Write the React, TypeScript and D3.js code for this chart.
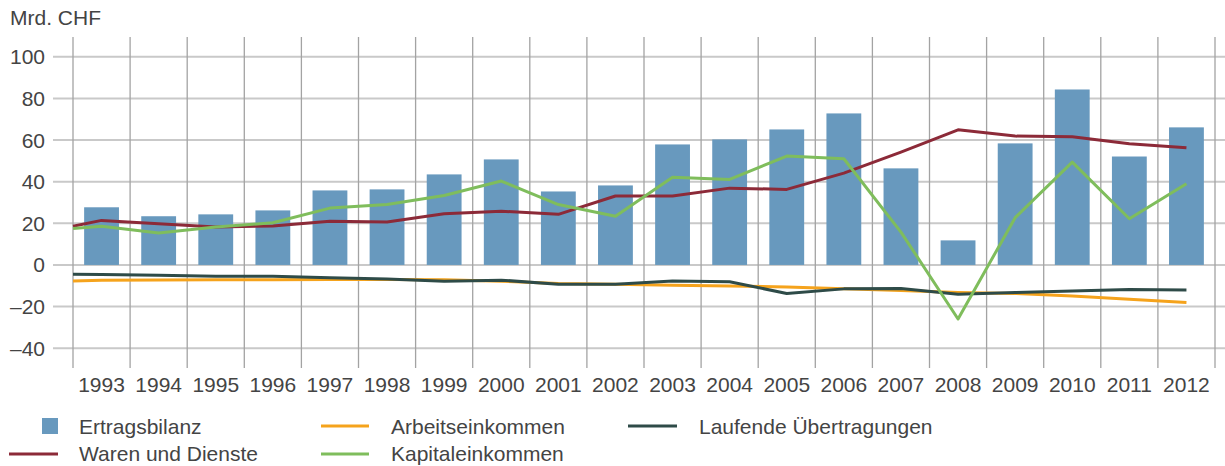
import React from 'react';
import * as d3 from 'd3';

// Jahre (Kategorien)
const years = [
  '1993', '1994', '1995', '1996', '1997', '1998', '1999', '2000', '2001', '2002',
  '2003', '2004', '2005', '2006', '2007', '2008', '2009', '2010', '2011', '2012'
];

// Ertragsbilanz (Balken), Mrd. CHF
const ertragsbilanz = [
  27.7, 23.4, 24.3, 26.2, 35.8, 36.3, 43.5, 50.7, 35.3, 38.2,
  57.9, 60.3, 65.1, 72.8, 46.4, 11.8, 58.4, 84.3, 52.1, 66.1
];

// Linien: erster Wert liegt am linken Achsenrand, danach ein Wert pro Jahr
const warenUndDienste = [
  18.6, 21.4, 19.8, 18.2, 18.7, 21.0, 20.6, 24.6, 25.8, 24.3, 33.1,
  33.1, 36.9, 36.3, 44.1, 54.2, 64.9, 61.9, 61.6, 58.2, 56.3
];
const arbeitseinkommen = [
  -7.7, -7.4, -7.2, -7.1, -7.1, -7.0, -7.0, -7.1, -7.8, -8.9, -9.3,
  -9.7, -10.1, -10.6, -11.5, -12.3, -13.2, -13.7, -14.9, -16.5, -18.0
];
const kapitaleinkommen = [
  17.5, 18.6, 15.3, 18.2, 20.3, 27.3, 29.0, 33.4, 40.3, 29.0, 23.4,
  42.1, 41.1, 52.3, 51.0, 15.8, -26.0, 22.7, 49.4, 22.2, 39.0
];
const laufendeUebertragungen = [
  -4.5, -4.6, -4.9, -5.4, -5.4, -6.1, -6.7, -7.8, -7.3, -9.3, -9.3,
  -7.7, -8.1, -13.7, -11.5, -11.3, -14.1, -13.3, -12.5, -11.8, -12.0
];

const yTicks = [100, 80, 60, 40, 20, 0, -20, -40];

const lineSeries = [
  { name: 'Arbeitseinkommen', values: arbeitseinkommen, color: '#f5a31c' },
  { name: 'Laufende Übertragungen', values: laufendeUebertragungen, color: '#2e4b48' },
  { name: 'Waren und Dienste', values: warenUndDienste, color: '#8c2a38' },
  { name: 'Kapitaleinkommen', values: kapitaleinkommen, color: '#7fbd5c' }
];

const BAR_COLOR = '#6899be';
const TEXT_COLOR = '#444444';
const FONT = '"Liberation Sans", Arial, sans-serif';
const FS = 21;

const width = 1225;
const height = 466;
const plot = { left: 73, right: 1215, top: 37, bottom: 368 };

const App: React.FC = () => {
  const x = d3.scaleBand<string>()
    .domain(years)
    .range([plot.left, plot.right])
    .paddingInner(0.39)
    .paddingOuter(0.195);

  const y = d3.scaleLinear()
    .domain([-50, 110])
    .range([369, 36]);

  const step = x.step();
  const boundaries = d3.range(years.length + 1).map(i => plot.left + i * step);

  // x position of line point i (0 = left edge, then bar centres)
  const lx = (i: number) =>
    i === 0 ? x.range()[0] : (x(years[i - 1]) as number) + x.bandwidth() / 2;

  const line = d3.line<number>()
    .x((_, i) => lx(i))
    .y(d => y(d));

  const legendRow1 = 426;
  const legendRow2 = 454;

  return (
    <svg
      width={width}
      height={height}
      style={{ position: 'absolute', left: 0, top: 0, background: '#fff' }}
      fontFamily={FONT}
    >
      {/* unit label */}
      <text x={10} y={25} fontSize={FS} fill={TEXT_COLOR}>Mrd. CHF</text>

      {/* horizontal grid */}
      {yTicks.map(t => (
        <line key={'h' + t} x1={53} x2={width} y1={y(t)} y2={y(t)}
          stroke="#c9c9c9" strokeWidth={2} />
      ))}
      {/* vertical grid */}
      {boundaries.map((bx, i) => (
        <line key={'v' + i} x1={bx} x2={bx} y1={plot.top} y2={plot.bottom}
          stroke="#a3a3a3" strokeWidth={1.3} />
      ))}

      {/* y tick labels */}
      {yTicks.map(t => (
        <text key={'yl' + t} x={45} y={y(t)} dy="0.36em" textAnchor="end"
          fontSize={FS} fill={TEXT_COLOR}>
          {t < 0 ? '\u2013' + Math.abs(t) : t}
        </text>
      ))}

      {/* bars */}
      {years.map((yr, i) => {
        const v = ertragsbilanz[i];
        return (
          <rect key={'b' + yr} x={x(yr)} width={x.bandwidth()}
            y={y(Math.max(0, v))} height={Math.abs(y(v) - y(0))}
            fill={BAR_COLOR} />
        );
      })}

      {/* lines */}
      {lineSeries.map(s => (
        <path key={s.name} d={line(s.values) || ''} fill="none"
          stroke={s.color} strokeWidth={3} strokeLinejoin="round" />
      ))}

      {/* x tick labels */}
      {years.map(yr => (
        <text key={'xl' + yr} x={(x(yr) as number) + x.bandwidth() / 2} y={391.5}
          textAnchor="middle" fontSize={FS} fill={TEXT_COLOR}>
          {yr}
        </text>
      ))}

      {/* legend */}
      <g fontSize={FS} fill={TEXT_COLOR}>
        <rect x={42} y={legendRow1 - 8} width={16} height={16} fill={BAR_COLOR} />
        <text x={79} y={legendRow1} dy="0.36em">Ertragsbilanz</text>

        <line x1={321} x2={369} y1={legendRow1} y2={legendRow1} stroke="#f5a31c" strokeWidth={3} />
        <text x={391} y={legendRow1} dy="0.36em">Arbeitseinkommen</text>

        <line x1={628} x2={677} y1={legendRow1} y2={legendRow1} stroke="#2e4b48" strokeWidth={3} />
        <text x={699} y={legendRow1} dy="0.36em">Laufende Übertragungen</text>

        <line x1={9} x2={58} y1={legendRow2} y2={legendRow2} stroke="#8c2a38" strokeWidth={3} />
        <text x={79} y={legendRow2} dy="0.33em">Waren und Dienste</text>

        <line x1={321} x2={369} y1={legendRow2} y2={legendRow2} stroke="#7fbd5c" strokeWidth={3} />
        <text x={391} y={legendRow2} dy="0.33em">Kapitaleinkommen</text>
      </g>
    </svg>
  );
};

export default App;
